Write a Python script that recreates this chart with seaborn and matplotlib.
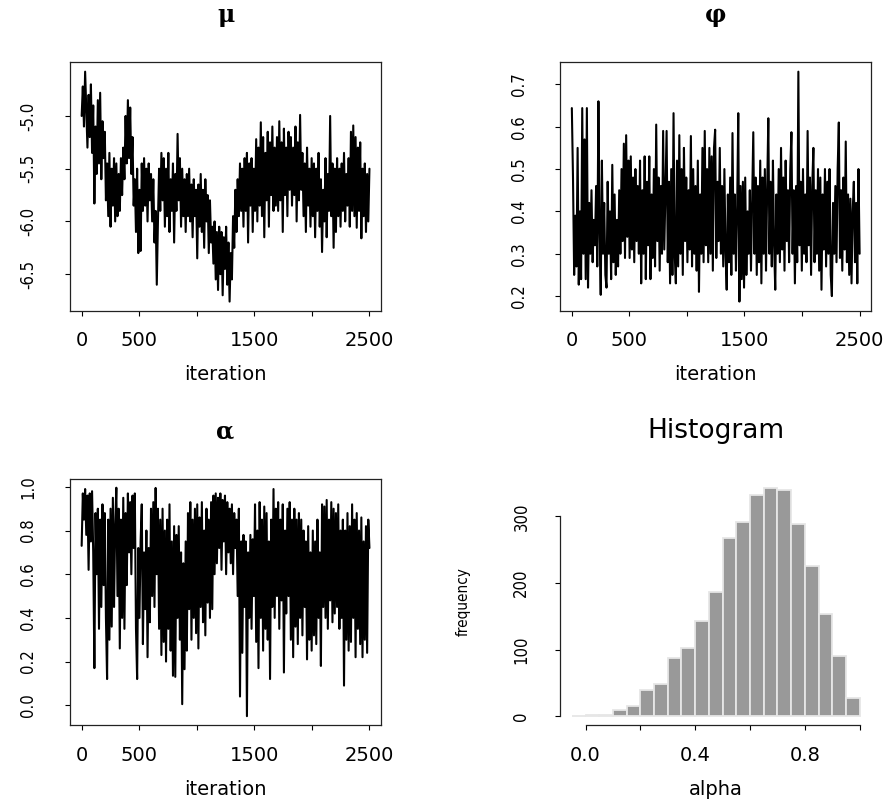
import numpy as np
import matplotlib
matplotlib.use("Agg")
import matplotlib.pyplot as plt
import seaborn as sns

# MCMC traces, one value every 10 iterations (rows = 100 iterations)
mu_trace = [
    -5.00, -4.72, -5.10, -4.58, -4.95, -5.30, -4.80, -5.20, -4.70, -5.35,
    -4.90, -5.83, -5.10, -5.55, -4.85, -5.45, -4.78, -5.60, -5.05, -5.40,
    -5.15, -5.80, -5.45, -5.95, -5.35, -6.05, -5.50, -5.85, -5.40, -6.00,
    -5.45, -5.95, -5.55, -5.90, -5.40, -5.75, -5.30, -5.60, -5.00, -5.45,
    -4.85, -5.40, -4.92, -5.55, -5.20, -5.85, -5.60, -6.10, -5.50, -6.30,
    -5.70, -6.28, -5.45, -5.90, -5.40, -5.85, -5.50, -6.00, -5.45, -5.80,
    -5.55, -6.00, -5.60, -6.20, -5.90, -6.60, -6.00, -5.50, -5.90, -5.35,
    -5.80, -5.40, -6.05, -5.50, -5.95, -5.35, -6.10, -5.60, -5.90, -5.45,
    -6.20, -5.55, -5.90, -5.17, -5.80, -5.40, -6.05, -5.50, -5.95, -5.60,
    -6.10, -5.55, -5.95, -5.50, -6.00, -5.65, -6.15, -5.60, -5.95, -5.70,
    -6.35, -5.65, -6.05, -5.55, -6.10, -5.70, -6.25, -5.60, -6.00, -5.75,
    -6.30, -5.80, -6.20, -6.05, -6.40, -6.00, -6.55, -6.10, -6.65, -6.05,
    -6.50, -6.10, -6.70, -6.15, -6.45, -6.05, -6.60, -6.20, -6.76, -6.30,
    -6.55, -5.95, -6.25, -5.70, -6.10, -5.60, -5.95, -5.45, -5.90, -5.50,
    -6.05, -5.40, -5.90, -5.35, -6.20, -5.45, -5.85, -5.40, -6.10, -5.50,
    -5.90, -5.22, -6.00, -5.30, -5.85, -5.06, -5.95, -5.20, -6.15, -5.35,
    -5.80, -5.15, -6.05, -5.25, -5.75, -5.10, -5.90, -5.30, -5.85, -5.20,
    -5.90, -5.05, -5.80, -5.25, -6.10, -5.12, -5.75, -5.30, -5.95, -5.15,
    -5.70, -5.20, -5.85, -5.30, -5.75, -5.10, -6.00, -5.25, -5.80, -4.99,
    -5.70, -5.35, -5.95, -5.45, -6.10, -5.30, -5.85, -5.50, -6.05, -5.40,
    -5.95, -5.45, -6.15, -5.50, -5.90, -5.35, -6.05, -5.60, -6.29, -5.70,
    -6.00, -5.40, -6.15, -5.55, -5.90, -5.00, -5.95, -5.45, -6.25, -5.50,
    -6.10, -5.40, -5.95, -5.50, -6.05, -5.45, -5.90, -5.35, -6.00, -5.55,
    -5.85, -5.40, -6.05, -5.15, -5.90, -5.09, -5.95, -5.20, -6.06, -5.30,
    -5.90, -5.25, -6.16, -5.50, -5.95, -5.45, -6.10, -5.55, -6.00, -5.50,
]

phi_trace = [
    0.644, 0.48, 0.25, 0.39, 0.27, 0.55, 0.227, 0.40, 0.24, 0.644,
    0.30, 0.57, 0.24, 0.644, 0.22, 0.42, 0.30, 0.45, 0.28, 0.38,
    0.32, 0.46, 0.27, 0.66, 0.35, 0.203, 0.52, 0.30, 0.42, 0.25,
    0.22, 0.47, 0.30, 0.40, 0.24, 0.51, 0.28, 0.44, 0.25, 0.38,
    0.27, 0.45, 0.30, 0.50, 0.33, 0.56, 0.29, 0.58, 0.34, 0.52,
    0.29, 0.53, 0.31, 0.48, 0.28, 0.50, 0.33, 0.46, 0.30, 0.52,
    0.23, 0.45, 0.30, 0.53, 0.24, 0.47, 0.32, 0.53, 0.24, 0.44,
    0.29, 0.50, 0.27, 0.605, 0.33, 0.48, 0.26, 0.46, 0.30, 0.59,
    0.31, 0.45, 0.59, 0.28, 0.47, 0.23, 0.50, 0.25, 0.632, 0.30,
    0.23, 0.52, 0.27, 0.58, 0.30, 0.50, 0.25, 0.55, 0.33, 0.48,
    0.28, 0.45, 0.31, 0.578, 0.27, 0.50, 0.30, 0.46, 0.26, 0.52,
    0.21, 0.44, 0.30, 0.55, 0.28, 0.59, 0.32, 0.50, 0.28, 0.55,
    0.30, 0.53, 0.26, 0.55, 0.593, 0.29, 0.47, 0.33, 0.55, 0.30,
    0.46, 0.27, 0.50, 0.30, 0.215, 0.44, 0.28, 0.48, 0.25, 0.585,
    0.30, 0.44, 0.26, 0.40, 0.632, 0.187, 0.46, 0.24, 0.47, 0.22,
    0.48, 0.25, 0.40, 0.30, 0.45, 0.26, 0.43, 0.587, 0.30, 0.48,
    0.25, 0.46, 0.28, 0.52, 0.23, 0.48, 0.30, 0.50, 0.26, 0.45,
    0.62, 0.30, 0.47, 0.27, 0.52, 0.32, 0.215, 0.44, 0.30, 0.50,
    0.28, 0.55, 0.31, 0.48, 0.26, 0.52, 0.33, 0.45, 0.28, 0.50,
    0.587, 0.30, 0.45, 0.23, 0.46, 0.28, 0.73, 0.32, 0.47, 0.26,
    0.50, 0.30, 0.44, 0.28, 0.59, 0.32, 0.48, 0.25, 0.46, 0.55,
    0.28, 0.45, 0.30, 0.50, 0.26, 0.48, 0.215, 0.44, 0.31, 0.50,
    0.27, 0.47, 0.30, 0.50, 0.25, 0.20, 0.42, 0.30, 0.46, 0.28,
    0.50, 0.61, 0.29, 0.45, 0.26, 0.48, 0.31, 0.565, 0.28, 0.44,
    0.25, 0.43, 0.23, 0.40, 0.47, 0.28, 0.42, 0.23, 0.50, 0.30,
]

alpha_trace = [
    0.73, 0.97, 0.85, 0.99, 0.78, 0.96, 0.62, 0.97, 0.75, 0.98,
    0.70, 0.17, 0.88, 0.60, 0.90, 0.35, 0.85, 0.45, 0.92, 0.55,
    0.88, 0.40, 0.12, 0.85, 0.30, 0.90, 0.36, 0.95, 0.45, 0.82,
    0.996, 0.50, 0.90, 0.26, 0.85, 0.40, 0.95, 0.35, 0.88, 0.55,
    0.97, 0.70, 0.93, 0.60, 0.96, 0.72, 0.97, 0.35, 0.12, 0.72,
    0.40, 0.75, 0.92, 0.28, 0.70, 0.44, 0.80, 0.22, 0.72, 0.38,
    0.90, 0.50, 0.93, 0.45, 0.995, 0.60, 0.90, 0.35, 0.85, 0.23,
    0.90, 0.29, 0.80, 0.20, 0.85, 0.35, 0.92, 0.25, 0.75, 0.135,
    0.82, 0.13, 0.78, 0.40, 0.82, 0.30, 0.70, 0.005, 0.65, 0.165,
    0.75, 0.25, 0.88, 0.44, 0.93, 0.30, 0.85, 0.40, 0.90, 0.33,
    0.92, 0.26, 0.86, 0.45, 0.93, 0.38, 0.80, 0.32, 0.90, 0.47,
    0.85, 0.40, 0.93, 0.44, 0.96, 0.60, 0.97, 0.65, 0.95, 0.72,
    0.97, 0.62, 0.94, 0.75, 0.96, 0.60, 0.93, 0.70, 0.90, 0.65,
    0.92, 0.60, 0.88, 0.72, 0.85, 0.50, 0.90, 0.04, 0.75, 0.24,
    0.78, 0.45, 0.75, -0.05, 0.70, 0.40, 0.78, 0.35, 0.76, 0.50,
    0.92, 0.29, 0.80, 0.17, 0.93, 0.40, 0.85, 0.25, 0.91, 0.35,
    0.88, 0.30, 0.75, 0.12, 0.85, 0.45, 0.99, 0.40, 0.90, 0.50,
    0.93, 0.35, 0.85, 0.48, 0.92, 0.15, 0.80, 0.42, 0.90, 0.50,
    0.93, 0.30, 0.85, 0.22, 0.90, 0.36, 0.85, 0.28, 0.88, 0.40,
    0.85, 0.32, 0.80, 0.45, 0.75, 0.21, 0.82, 0.30, 0.70, 0.25,
    0.80, 0.32, 0.75, 0.28, 0.85, 0.40, 0.70, 0.18, 0.92, 0.45,
    0.91, 0.40, 0.94, 0.35, 0.85, 0.48, 0.93, 0.38, 0.90, 0.42,
    0.88, 0.45, 0.92, 0.35, 0.80, 0.40, 0.85, 0.09, 0.80, 0.30,
    0.88, 0.25, 0.82, 0.29, 0.92, 0.40, 0.85, 0.22, 0.88, 0.35,
    0.80, 0.28, 0.86, 0.22, 0.75, 0.30, 0.82, 0.24, 0.85, 0.72,
]

# histogram of alpha
bin_edges = [-0.05, 0.0, 0.05, 0.1, 0.15, 0.2, 0.25, 0.3, 0.35, 0.4, 0.45,
             0.5, 0.55, 0.6, 0.65, 0.7, 0.75, 0.8, 0.85, 0.9, 0.95, 1.0]
hist_counts = [1, 2, 2, 10, 15, 40, 48, 87, 102, 143, 186,
               267, 291, 332, 343, 339, 288, 225, 154, 90, 27]

trace_xticks = [0, 500, 1000, 1500, 2000, 2500]
trace_xlabels = ["0", "500", "", "1500", "", "2500"]
mu_yticks = [-6.5, -6.0, -5.5, -5.0]
mu_ylabels = ["-6.5", "-6.0", "-5.5", "-5.0"]
phi_yticks = [0.2, 0.3, 0.4, 0.5, 0.6, 0.7]
phi_ylabels = ["0.2", "0.3", "0.4", "0.5", "0.6", "0.7"]
alpha_yticks = [0.0, 0.2, 0.4, 0.6, 0.8, 1.0]
alpha_ylabels = ["0.0", "0.2", "0.4", "0.6", "0.8", "1.0"]
hist_xticks = [0.0, 0.2, 0.4, 0.6, 0.8, 1.0]
hist_xlabels = ["0.0", "", "0.4", "", "0.8", ""]
hist_yticks = [0, 100, 200, 300]

sns.set_style("ticks")
plt.rcParams["font.family"] = ["DejaVu Sans"]
plt.rcParams.update({
    "text.color": "black",
    "axes.labelcolor": "black",
    "xtick.color": "black",
    "ytick.color": "black",
    "axes.edgecolor": "black",
})

fig = plt.figure(figsize=(8.88, 8.01), dpi=100)

ax_mu = fig.add_axes([0.079, 0.612, 0.350, 0.310])
ax_phi = fig.add_axes([0.631, 0.612, 0.350, 0.310])
ax_alpha = fig.add_axes([0.079, 0.0945, 0.350, 0.308])
ax_hist = fig.add_axes([0.631, 0.0945, 0.350, 0.308])


def style_yticklabels(ax, size=12):
    for lab in ax.get_yticklabels():
        lab.set_rotation(90)
        lab.set_va("center")
        lab.set_fontsize(size)
        lab.set_fontstretch("condensed")


def trace_plot(ax, values, title, yticks, ylabels):
    iters = np.linspace(1, 2500, len(values))
    sns.lineplot(x=iters, y=values, ax=ax, color="black", linewidth=1.5,
                 estimator=None, sort=False)
    ax.margins(x=0.04, y=0.04)
    ax.set_xticks(trace_xticks, trace_xlabels)
    ax.set_yticks(yticks, ylabels)
    ax.set_xlabel("iteration", fontsize=14, labelpad=11)
    ax.set_ylabel("")
    ax.set_title(title, fontsize=17, fontweight="bold", family="DejaVu Serif", pad=29)
    for s in ax.spines.values():
        s.set_visible(True)
        s.set_color("#222222")
        s.set_linewidth(0.9)
    ax.tick_params(axis="x", length=3.6, width=0.8, pad=11, labelsize=14)
    ax.tick_params(axis="y", length=3.6, width=0.8, pad=20)
    style_yticklabels(ax)


trace_plot(ax_mu, mu_trace, "\u03bc", mu_yticks, mu_ylabels)
trace_plot(ax_phi, phi_trace, "\u03c6", phi_yticks, phi_ylabels)
trace_plot(ax_alpha, alpha_trace, "\u03b1", alpha_yticks, alpha_ylabels)

# histogram panel
centers = [(a + b) / 2 for a, b in zip(bin_edges[:-1], bin_edges[1:])]
sns.histplot(x=centers, weights=hist_counts, bins=bin_edges, ax=ax_hist,
             color="#999999", edgecolor="#e6e6e6", linewidth=1.3, alpha=1)
span = bin_edges[-1] - bin_edges[0]
ax_hist.set_xlim(bin_edges[0] - 0.04 * span, bin_edges[-1] + 0.04 * span)
top = max(hist_counts)
ax_hist.set_ylim(-0.04 * top, 1.04 * top)
ax_hist.spines["top"].set_visible(False)
ax_hist.spines["right"].set_visible(False)
ax_hist.spines["left"].set_bounds(0, 300)
ax_hist.spines["bottom"].set_bounds(0, 1.0)
for s in ("left", "bottom"):
    ax_hist.spines[s].set_color("#222222")
    ax_hist.spines[s].set_linewidth(0.9)
ax_hist.set_xticks(hist_xticks, hist_xlabels)
ax_hist.set_yticks(hist_yticks, [str(v) for v in hist_yticks])
ax_hist.tick_params(axis="x", length=3.6, width=0.8, pad=11, labelsize=14)
ax_hist.tick_params(axis="y", length=3.6, width=0.8, pad=18)
style_yticklabels(ax_hist)
ax_hist.set_xlabel("alpha", fontsize=14, labelpad=11)
ax_hist.set_ylabel("frequency", fontsize=11, fontstretch="condensed", labelpad=30)
ax_hist.set_title("Histogram", fontsize=19, pad=29)

fig.savefig("out.png", dpi=100, facecolor="white")
